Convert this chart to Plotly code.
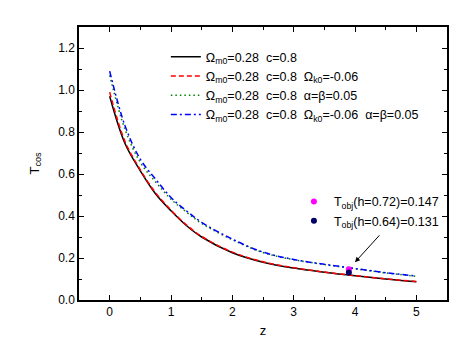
import plotly.graph_objects as go

z = [0, 0.25, 0.5, 0.75, 1.0, 1.25, 1.5, 2.0, 2.5, 3.0, 3.5, 4.0, 4.5, 5.0]
t_base = [0.97, 0.745, 0.615, 0.505, 0.425, 0.355, 0.30, 0.225, 0.18, 0.152, 0.132, 0.115, 0.10, 0.087]
t_k = [0.99, 0.755, 0.62, 0.51, 0.428, 0.358, 0.303, 0.228, 0.182, 0.154, 0.133, 0.116, 0.101, 0.088]
t_ab = [1.07, 0.812, 0.655, 0.562, 0.48, 0.419, 0.365, 0.287, 0.226, 0.192, 0.169, 0.149, 0.129, 0.113]
t_kab = [1.09, 0.83, 0.67, 0.575, 0.488, 0.425, 0.37, 0.29, 0.228, 0.193, 0.17, 0.15, 0.13, 0.114]

obs_z = [3.9, 3.9]
obs_t = [0.147, 0.131]
obs_labels = ["T<sub>obj</sub>(h=0.72)=0.147", "T<sub>obj</sub>(h=0.64)=0.131"]
obs_colors = ["#ff00ff", "#000066"]

sp = "\u00a0\u00a0"
names = [
    "Ω<sub>m0</sub>=0.28" + sp + "c=0.8",
    "Ω<sub>m0</sub>=0.28" + sp + "c=0.8" + sp + "Ω<sub>k0</sub>=-0.06",
    "Ω<sub>m0</sub>=0.28" + sp + "c=0.8" + sp + "α=β=0.05",
    "Ω<sub>m0</sub>=0.28" + sp + "c=0.8" + sp + "Ω<sub>k0</sub>=-0.06" + sp + "α=β=0.05",
]
series = [t_base, t_k, t_ab, t_kab]
colors = ["#000000", "#ff0000", "#008000", "#0000ff"]
dashes = ["solid", "5px,3px", "1.5px,3px", "6px,3px,2px,3px"]

fig = go.Figure()
for s, n, c, d in zip(series, names, colors, dashes):
    fig.add_trace(go.Scatter(x=z, y=s, mode="lines", name=n,
                             line=dict(color=c, dash=d, width=1.5, shape="spline"),
                             legend="legend"))
for xz, yt, lab, col in zip(obs_z, obs_t, obs_labels, obs_colors):
    fig.add_trace(go.Scatter(x=[xz], y=[yt], mode="markers", name=lab,
                             marker=dict(color=col, size=6), legend="legend2"))

fig.add_annotation(x=4.0, y=0.18, ax=4.42, ay=0.315, xref="x", yref="y",
                   axref="x", ayref="y", text="", showarrow=True,
                   arrowhead=2, arrowsize=1, arrowwidth=1, arrowcolor="#000000")

FONT = "Liberation Sans, Arial"
axis_common = dict(showline=True, linecolor="#000000", linewidth=1.5, mirror="ticks",
                   ticks="inside", ticklen=5, tickwidth=1.2, tickcolor="#000000",
                   showgrid=False, zeroline=False, automargin=False,
                   tickfont=dict(family=FONT, size=12, color="#000000"))

fig.update_xaxes(range=[-0.5, 5.5], tickvals=[0, 1, 2, 3, 4, 5],
                 minor=dict(ticks="inside", ticklen=3, dtick=0.5, tick0=0, tickcolor="#000000"),
                 title=dict(text="z", font=dict(family=FONT, size=13, color="#000000"), standoff=8),
                 **axis_common)
fig.update_yaxes(range=[0, 1.3], tickvals=[0, 0.2, 0.4, 0.6, 0.8, 1.0, 1.2], tickformat=".1f",
                 minor=dict(ticks="inside", ticklen=3, dtick=0.1, tick0=0, tickcolor="#000000"),
                 title=dict(text="T<sub>cos</sub>", font=dict(family=FONT, size=13, color="#000000"), standoff=16),
                 **axis_common)

# page body has an 8px margin, so the figure is 8px smaller and margins are shifted
fig.update_layout(
    width=466, height=348,
    margin=dict(l=71, r=27, t=19, b=56, autoexpand=False),
    plot_bgcolor="#ffffff", paper_bgcolor="#ffffff",
    font=dict(family=FONT, color="#000000"),
    legend=dict(x=0.236, y=0.945, xanchor="left", yanchor="top", bgcolor="rgba(0,0,0,0)",
                font=dict(size=12.5, color="#000000"), tracegroupgap=0, itemwidth=30),
    legend2=dict(x=0.584, y=0.414, xanchor="left", yanchor="top", bgcolor="rgba(0,0,0,0)",
                 font=dict(size=12.5, color="#000000"), itemwidth=30),
)

fig.write_html("out.html")
